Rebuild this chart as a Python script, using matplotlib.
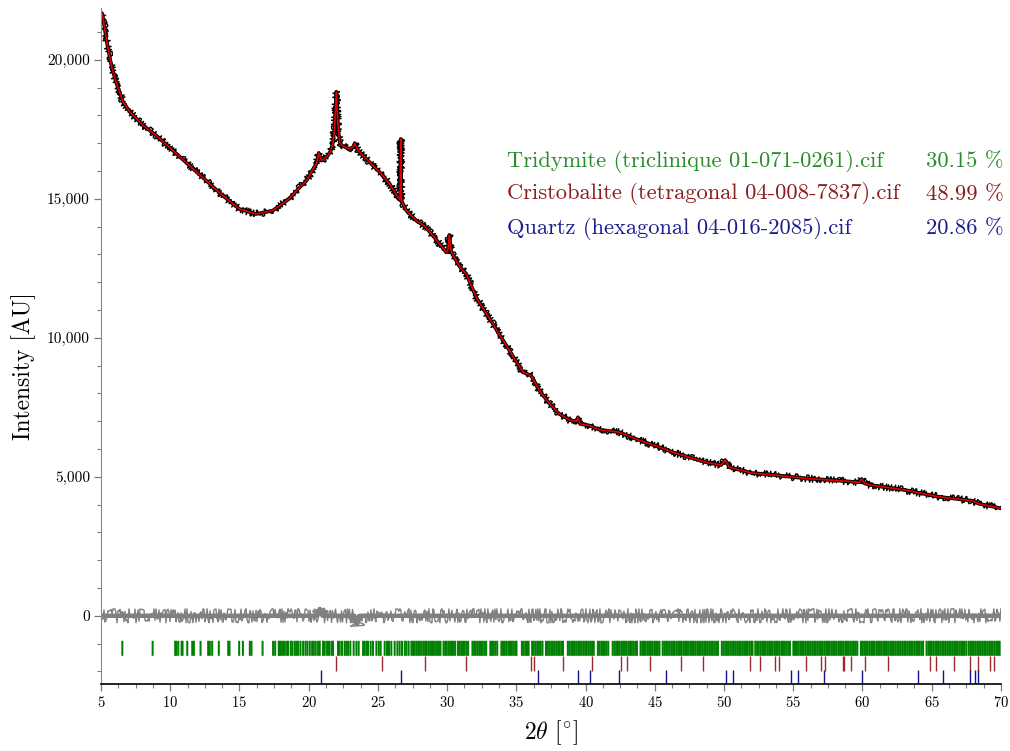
import matplotlib
matplotlib.use("Agg")
import matplotlib.pyplot as plt
from matplotlib.ticker import MultipleLocator, FuncFormatter

plt.rcParams['font.family'] = ['cmr10', 'DejaVu Serif']
plt.rcParams['mathtext.fontset'] = 'cm'
plt.rcParams['axes.unicode_minus'] = False
plt.rcParams['axes.formatter.use_mathtext'] = True

# fitted profile (2theta, counts)
two_theta = [5.0, 5.1, 5.4, 5.77, 6.13, 6.6, 7.1, 8.05, 9.0, 10.2, 11.4, 12.6,
             13.8, 15.0, 16.2, 17.4, 18.6, 19.36, 19.84, 20.32, 20.56, 20.73,
             20.93, 21.38, 21.6, 21.76, 21.88, 22.0, 22.12, 22.24, 22.4, 22.9,
             23.2, 23.33, 23.57, 24.17, 25.13, 25.85, 26.45, 26.6, 26.65, 26.7,
             26.82, 27.06, 27.78, 28.38, 28.98, 29.94, 30.05, 30.16, 30.28,
             30.37, 30.9, 31.38, 32.1, 33.3, 34.5, 35.47, 36.07, 36.67, 37.4,
             38.1, 38.85, 39.35, 39.45, 39.6, 40.3, 41.0, 42.45, 43.9, 45.35,
             46.3, 47.5, 48.7, 49.78, 50.09, 50.38, 52.06, 53.5, 55.9, 58.3,
             59.76, 59.95, 60.15, 60.5, 63.1, 65.5, 67.9, 68.4, 69.86, 70.0]
intensity = [21700, 21650, 20700, 19730, 19130, 18470, 18110, 17630, 17270,
             16730, 16190, 15650, 15110, 14630, 14450, 14570, 15000, 15410,
             15650, 16070, 16250, 16650, 16370, 16550, 16730, 17030, 17600,
             18850, 17600, 17030, 16920, 16790, 16850, 17000, 16730, 16430,
             15950, 15530, 15050, 14960, 17150, 14950, 14810, 14570, 14210,
             14010, 13670, 13070, 13150, 13700, 13150, 13010, 12560, 12300,
             11450, 10500, 9540, 8760, 8640, 8100, 7620, 7260, 7040, 6990,
             7140, 6900, 6840, 6690, 6600, 6310, 6060, 5880, 5700, 5520, 5420,
             5600, 5340, 5130, 5070, 4940, 4860, 4800, 4920, 4760, 4710, 4520,
             4280, 4140, 4030, 3880, 3860]

# obs - calc
diff_x = [5.0, 20.6, 20.8, 21.0, 23.3, 23.5, 23.7, 70.0]
diff_y = [0, 0, 250, 0, 0, -300, 0, 0]

tridymite_pos = [
    6.54, 8.73, 10.36, 10.43, 10.58, 10.82, 10.89, 11.23, 11.59, 11.71, 12.19,
    12.74, 12.86, 13.03, 13.51, 14.19, 14.28, 14.98, 15.25, 15.75, 15.87,
    16.67, 17.43, 17.58, 17.84, 17.91, 18.01, 18.15, 18.28, 18.44, 18.52,
    18.71, 18.83, 19.00, 19.12, 19.24, 19.41, 19.60, 19.77, 19.91, 20.08,
    20.25, 20.37, 20.51, 20.68, 20.80, 21.04, 21.16, 21.33, 21.47, 21.64,
    21.76, 22.12, 22.24, 22.41, 22.60, 22.72, 22.85, 23.01, 23.25, 23.45,
    23.61, 23.93, 24.05, 24.19, 24.29, 24.48, 24.65, 24.89, 25.06, 25.20,
    25.49, 25.66, 25.80, 25.97, 26.21, 26.41, 26.57, 26.74, 26.94, 27.06,
    27.22, 27.42, 27.54, 27.66, 27.79, 27.91,
    28.03, 28.16, 28.29, 28.41, 28.53, 28.66, 28.78, 28.91,
    29.04, 29.16, 29.28, 29.41, 29.52, 29.74, 29.86, 29.97,
    30.10, 30.22, 30.35, 30.47, 30.58, 30.78, 30.90,
    31.02, 31.15, 31.27, 31.40, 31.52, 31.83, 31.95,
    32.07, 32.20, 32.32, 32.45, 32.57, 32.70, 32.82,
    33.12, 33.24, 33.37, 33.49, 33.62, 33.92,
    34.04, 34.17, 34.29, 34.42, 34.54, 34.67, 34.79, 34.92,
    35.01, 35.40, 35.52, 35.65, 35.77, 35.89,
    36.14, 36.26, 36.39, 36.51, 36.64, 36.76, 36.89,
    37.14, 37.27, 37.39, 37.52, 37.64, 37.77, 37.89,
    38.02, 38.14, 38.27, 38.37, 38.72, 38.84, 38.97,
    39.09, 39.22, 39.34, 39.47, 39.59, 39.72, 39.84, 39.97,
    40.09, 40.22, 40.34, 40.47, 40.59, 40.89,
    41.01, 41.14, 41.26, 41.39, 41.51, 41.64, 41.96,
    42.09, 42.21, 42.34, 42.46, 42.59, 42.71, 42.84, 42.96,
    43.09, 43.21, 43.34, 43.46, 43.59, 43.71, 43.97,
    44.09, 44.22, 44.34, 44.47, 44.59, 44.72, 44.84, 44.97,
    45.09, 45.22, 45.34, 45.57, 45.69, 45.82, 45.94,
    46.07, 46.19, 46.32, 46.44, 46.57, 46.69, 46.82, 46.94,
    47.07, 47.19, 47.32, 47.44, 47.57, 47.69, 47.82, 47.94,
    48.07, 48.19, 48.32, 48.44, 48.57, 48.69, 48.82, 48.94,
    49.07, 49.19, 49.32, 49.44, 49.57, 49.84, 49.96,
    50.09, 50.21, 50.34, 50.46, 50.59, 50.71, 50.84, 50.96,
    51.09, 51.21, 51.34, 51.46, 51.59, 51.71, 51.84, 51.96,
    52.06, 52.26, 52.39, 52.51, 52.64, 52.76, 52.89,
    53.01, 53.14, 53.26, 53.39, 53.51, 53.64, 53.76, 53.89,
    54.01, 54.14, 54.26, 54.39, 54.51, 54.64, 54.76,
    55.01, 55.13, 55.26, 55.38, 55.51, 55.63, 55.76, 55.88,
    56.01, 56.13, 56.26, 56.38, 56.51, 56.63, 56.76, 56.88,
    57.01, 57.13, 57.26, 57.38, 57.51, 57.63, 57.76, 57.88,
    58.01, 58.13, 58.26, 58.38, 58.51, 58.63, 58.76, 58.88,
    59.01, 59.13, 59.26, 59.38, 59.51, 59.63, 59.89,
    60.01, 60.13, 60.26, 60.38, 60.51, 60.63, 60.76, 60.88,
    61.01, 61.13, 61.26, 61.38, 61.51, 61.63, 61.76, 61.88,
    62.01, 62.13, 62.26, 62.38, 62.51, 62.63, 62.76, 62.88,
    63.01, 63.13, 63.26, 63.38, 63.51, 63.63, 63.76, 63.88,
    64.01, 64.13, 64.26, 64.38, 64.63, 64.76, 64.88,
    65.01, 65.13, 65.26, 65.38, 65.51, 65.63, 65.76, 65.88,
    66.01, 66.13, 66.26, 66.38, 66.51, 66.63, 66.76, 66.88,
    67.01, 67.13, 67.26, 67.38, 67.51, 67.68, 67.80, 67.92,
    68.04, 68.16, 68.29, 68.41, 68.54, 68.66, 68.79, 68.91,
    69.04, 69.16, 69.29, 69.41, 69.54, 69.66, 69.79, 69.91]
cristobalite_pos = [21.96, 25.30, 28.43, 31.39, 36.03, 36.31, 38.36, 40.45,
                    42.57, 43.00, 44.68, 46.90, 48.46, 51.88, 52.60, 53.65,
                    53.94, 55.92, 57.00, 57.29, 58.56, 58.70, 59.19, 60.17,
                    61.88, 64.90, 65.34, 66.62, 67.75, 68.35, 69.21, 69.52]
quartz_pos = [20.86, 26.64, 36.54, 39.47, 40.29, 42.45, 45.79, 50.14, 50.62,
              54.87, 55.33, 57.24, 59.96, 64.03, 65.79, 67.74, 68.14, 68.31]

phase_names = ["Tridymite (triclinique 01-071-0261).cif",
               "Cristobalite (tetragonal 04-008-7837).cif",
               "Quartz (hexagonal 04-016-2085).cif"]
phase_pct = [30.15, 48.99, 20.86]
text_colors = ["#2a8c2a", "#8b1c1c", "#1c1c8c"]

fig = plt.figure(figsize=(10.1, 7.51), dpi=100)
ax = fig.add_axes([0.1, 0.089, 0.891, 0.9])

# measured pattern as a jagged band, fit on top
obs, = ax.plot(two_theta, intensity, color='black', lw=1.0)
obs.set_sketch_params(scale=3.5, length=1.0, randomness=2)
ax.plot(two_theta, intensity, color='black', lw=2.6)
ax.plot(two_theta, intensity, color='#e00000', lw=1.2)
dif, = ax.plot(diff_x, diff_y, color='#808080', lw=1.0)
dif.set_sketch_params(scale=7, length=1.0, randomness=2)
ax.plot(diff_x, diff_y, color='#808080', lw=3.2)

ax.vlines(tridymite_pos, -1440, -900, color='#008000', lw=1.45, snap=False)
ax.vlines(cristobalite_pos, -1980, -1440, color='#9b2a2a', lw=1.0)
ax.vlines(quartz_pos, -2460, -1940, color='#12128a', lw=1.0)

ax.set_xlim(5, 70)
ax.set_ylim(-2460, 21850)

ax.xaxis.set_major_locator(MultipleLocator(5))
ax.xaxis.set_minor_locator(MultipleLocator(1.25))
ax.yaxis.set_major_locator(MultipleLocator(5000))
ax.yaxis.set_minor_locator(MultipleLocator(1000))
ax.yaxis.set_major_formatter(FuncFormatter(lambda v, p: f"{v:,.0f}" if v >= 0 else ""))

for s in ['top', 'right']:
    ax.spines[s].set_visible(False)
ax.spines['left'].set_color('#8a8a8a')
ax.spines['bottom'].set_color('black')
ax.spines['bottom'].set_linewidth(1.2)

ax.tick_params(axis='both', which='both', direction='out', color='#7a7a7a')
ax.tick_params(axis='both', which='major', length=5, width=0.9, labelsize=10.5, pad=3)
ax.tick_params(axis='both', which='minor', length=3, width=0.8)
ax.tick_params(axis='y', labelsize=11)

ax.set_xlabel(r'$2\theta$ [$^{\circ}$]', fontsize=17, labelpad=6)
ax.set_ylabel('Intensity [AU]', fontsize=17)
ax.yaxis.set_label_coords(-0.072, 0.47)

rows_y = [0.7856, 0.7417, 0.6964]
for name, pct, col, y in zip(phase_names, phase_pct, text_colors, rows_y):
    fig.text(0.502, y, name, color=col, fontsize=16.2, va='center', ha='left')
    fig.text(0.994, y, f"{pct:.2f} %", color=col, fontsize=16.2, va='center', ha='right')

fig.savefig('out.png', dpi=100)
